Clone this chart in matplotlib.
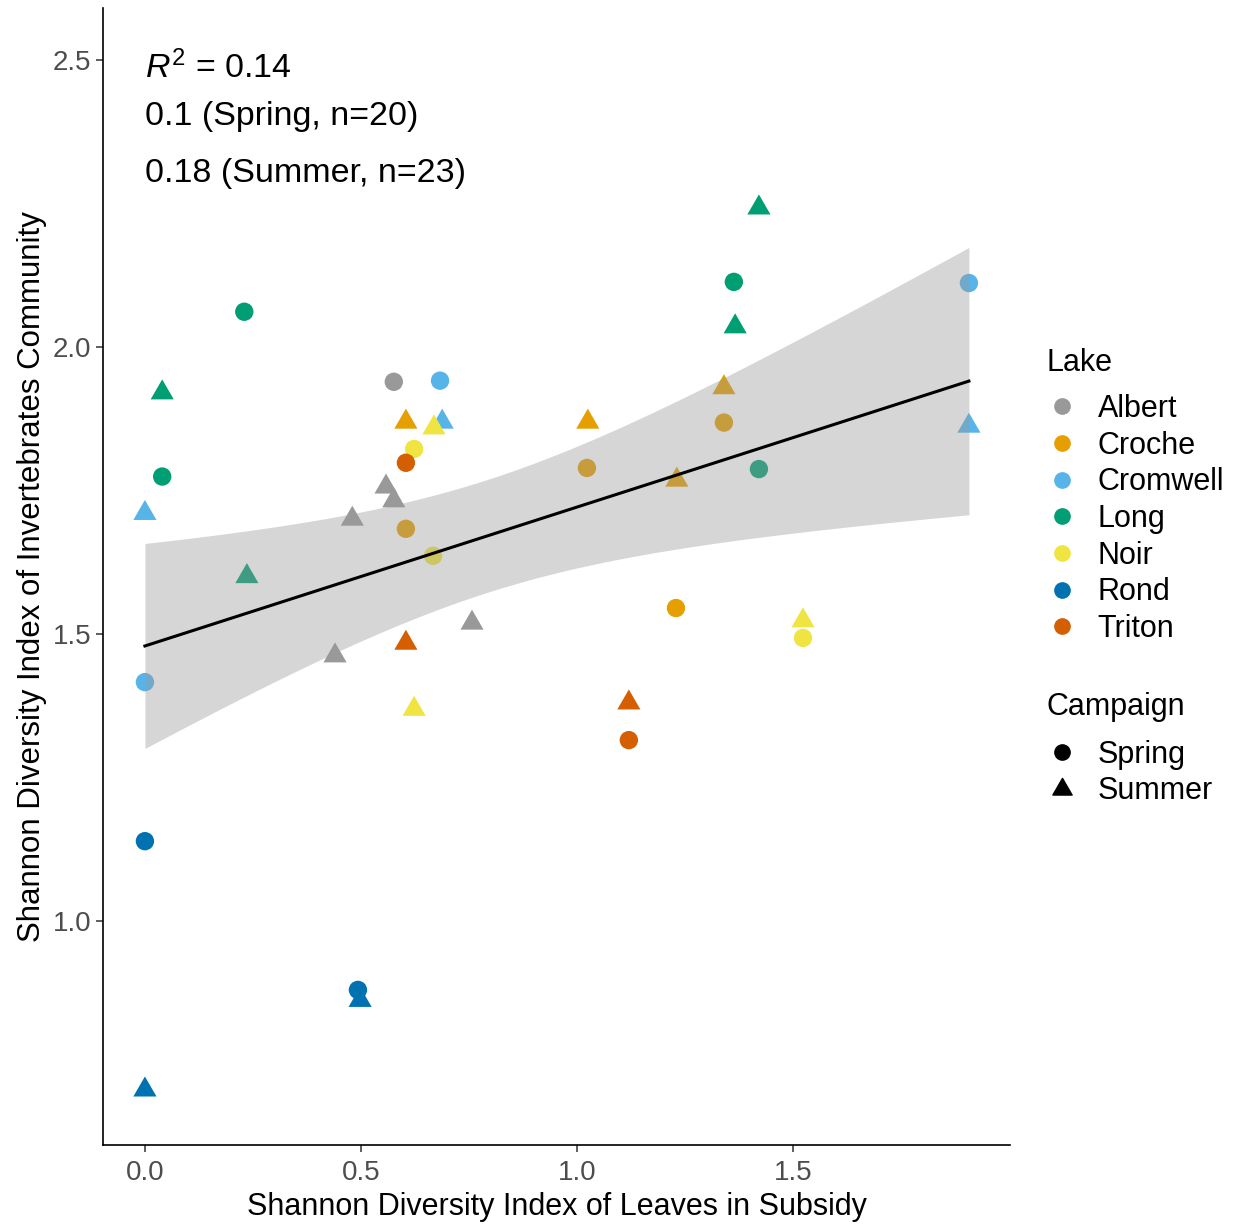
import numpy as np
import matplotlib
matplotlib.use("Agg")
import matplotlib.pyplot as plt
from matplotlib.lines import Line2D
from matplotlib.path import Path

plt.rcParams["font.family"] = ["Liberation Sans", "DejaVu Sans"]
plt.rcParams["mathtext.fontset"] = "custom"
plt.rcParams["mathtext.rm"] = "Liberation Sans"
plt.rcParams["mathtext.it"] = "Liberation Sans:italic"

lakes = ["Albert", "Croche", "Cromwell", "Long", "Noir", "Rond", "Triton"]
lake_colors = ["#999999", "#E69F00", "#56B4E9", "#009E73", "#F0E442", "#0072B2", "#D55E00"]

# Spring campaign (circles)
spring_lake = ["Long", "Long", "Cromwell", "Rond", "Rond", "Albert", "Cromwell",
               "Noir", "Triton", "Croche", "Noir", "Croche", "Croche", "Long",
               "Long", "Cromwell", "Croche", "Noir", "Triton"]
spring_x = [0.23, 0.04, 0.0, 0.0, 0.493, 0.576, 0.683, 0.623, 0.604, 0.604, 0.667,
            1.023, 1.340, 1.363, 1.421, 1.907, 1.229, 1.523, 1.120]
spring_y = [2.061, 1.774, 1.416, 1.139, 0.880, 1.939, 1.941, 1.822, 1.798, 1.683, 1.636,
            1.789, 1.868, 2.113, 1.787, 2.111, 1.545, 1.493, 1.315]

# Summer campaign (triangles)
summer_lake = ["Long", "Cromwell", "Long", "Albert", "Albert", "Albert", "Albert",
               "Croche", "Cromwell", "Noir", "Triton", "Noir", "Albert", "Croche",
               "Croche", "Croche", "Long", "Long", "Cromwell", "Noir", "Triton",
               "Rond", "Rond"]
summer_x = [0.04, 0.0, 0.236, 0.44, 0.48, 0.558, 0.576, 0.604, 0.688, 0.669, 0.604,
            0.623, 0.757, 1.025, 1.231, 1.340, 1.366, 1.421, 1.907, 1.523, 1.120,
            0.498, 0.0]
summer_y = [1.920, 1.710, 1.600, 1.462, 1.700, 1.756, 1.732, 1.869, 1.869, 1.859, 1.484,
            1.369, 1.519, 1.869, 1.768, 1.929, 2.035, 2.242, 1.862, 1.523, 1.380,
            0.862, 0.706]

annot_lines = [r"$R^2$ = 0.14", "0.1 (Spring, n=20)", "0.18 (Summer, n=23)"]
annot_y = [2.486, 2.401, 2.301]

T_CRIT = 2.02  # t quantile, 95%, df ~ 40

color_of = dict(zip(lakes, lake_colors))
tri = Path([(-1.0, -0.577), (1.0, -0.577), (0.0, 1.155), (-1.0, -0.577)],
           [Path.MOVETO, Path.LINETO, Path.LINETO, Path.CLOSEPOLY])

fig = plt.figure(figsize=(12.38, 12.26), dpi=100)
ax = fig.add_axes([0.0832, 0.0661, 0.7326, 0.9274])

ax.scatter(spring_x, spring_y, c=[color_of[l] for l in spring_lake], marker="o",
           s=175, linewidths=0, zorder=2)
ax.scatter(summer_x, summer_y, c=[color_of[l] for l in summer_lake], marker=tri,
           s=370, linewidths=0, zorder=2)

# linear fit with 95% confidence band
x_all = np.array(spring_x + summer_x)
y_all = np.array(spring_y + summer_y)
n = len(x_all)
slope, intercept = np.polyfit(x_all, y_all, 1)
resid = y_all - (slope * x_all + intercept)
s_err = np.sqrt(np.sum(resid ** 2) / (n - 2))
xs = np.linspace(x_all.min(), x_all.max(), 100)
ys = slope * xs + intercept
se = s_err * np.sqrt(1 / n + (xs - x_all.mean()) ** 2 / np.sum((x_all - x_all.mean()) ** 2))
ax.fill_between(xs, ys - T_CRIT * se, ys + T_CRIT * se, color="#999999", alpha=0.4,
                linewidth=0, zorder=3)
ax.plot(xs, ys, color="black", lw=2.2, zorder=4)

for txt, yy in zip(annot_lines, annot_y):
    ax.text(0.0, yy, txt, ha="left", va="center", fontsize=24.5, color="black")

ax.set_xlim(-0.097, 2.002)
ax.set_ylim(0.61, 2.59)
ax.set_xticks([0.0, 0.5, 1.0, 1.5])
ax.set_xticklabels(["0.0", "0.5", "1.0", "1.5"])
ax.set_yticks([1.0, 1.5, 2.0, 2.5])
ax.set_yticklabels(["1.0", "1.5", "2.0", "2.5"])
ax.tick_params(labelsize=20, labelcolor="#4D4D4D", color="#333333", length=5, width=1.1)
ax.tick_params(axis="x", pad=6)
for side in ["top", "right"]:
    ax.spines[side].set_visible(False)
for side in ["left", "bottom"]:
    ax.spines[side].set_linewidth(1.2)
    ax.spines[side].set_color("black")

ax.set_xlabel("Shannon Diversity Index of Leaves in Subsidy", fontsize=22, labelpad=4)
ax.set_ylabel("Shannon Diversity Index of Invertebrates Community", fontsize=22.5, labelpad=4)

# legends (titles placed as separate text for ggplot-like spacing)
fig.text(0.845, 1 - 363 / 1226, "Lake", fontsize=22, va="center", ha="left")
fig.text(0.845, 1 - 707 / 1226, "Campaign", fontsize=22, va="center", ha="left")

lake_handles = [Line2D([], [], marker="o", ls="", color=c, markersize=11, label=l)
                for l, c in zip(lakes, lake_colors)]
leg1 = fig.legend(handles=lake_handles, loc="center left",
                  bbox_to_anchor=(0.826, 1 - 519 / 1226), frameon=False, fontsize=22,
                  handletextpad=0.55, labelspacing=0.22, handlelength=1.2, borderpad=0.2)
camp_handles = [Line2D([], [], marker="o", ls="", color="black", markersize=11, label="Spring"),
                Line2D([], [], marker=tri, ls="", color="black", markersize=16, label="Summer")]
leg2 = fig.legend(handles=camp_handles, loc="center left",
                  bbox_to_anchor=(0.826, 1 - 773 / 1226), frameon=False, fontsize=22,
                  handletextpad=0.55, labelspacing=0.22, handlelength=1.2, borderpad=0.2)

fig.savefig("out.png", dpi=100)
